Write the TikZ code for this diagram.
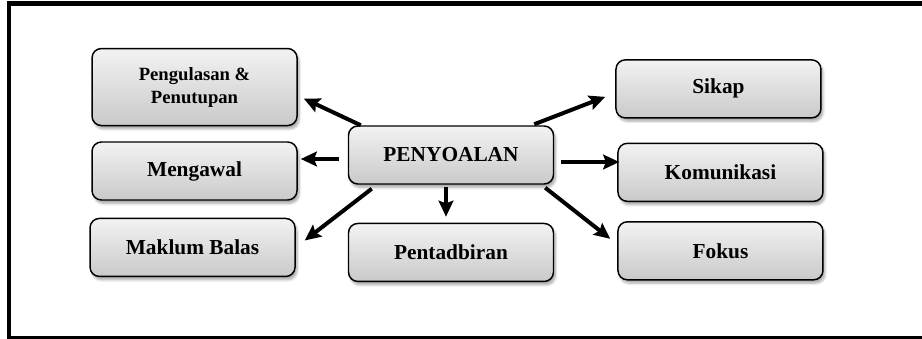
\documentclass[tikz,border=0pt]{standalone}
\usepackage{fontspec}
\setmainfont{Liberation Serif}
\usetikzlibrary{arrows.meta, positioning, shapes, shadows.blur}

\begin{document}
\begin{tikzpicture}[
    node distance=12pt and 37.5pt,
    mybox/.style={rectangle, rounded corners=7pt, draw=black, line width=1.1pt,
        top color=gray!10, bottom color=gray!42, align=center,
        minimum width=153.75pt, minimum height=43.5pt,
        font=\fontsize{16}{19}\selectfont\bfseries,
        blur shadow={shadow xshift=1.5pt, shadow yshift=-2.5pt, shadow blur steps=6, shadow opacity=35}},
    myarrow/.style={line width=3pt, -{Stealth[length=12pt, width=11pt, inset=2pt]}}
]

\useasboundingbox (-338.25pt,-138pt) rectangle (353.25pt,116.25pt);

% Frame (open on the right)
\draw[line width=3.5pt] (362pt,113.6pt) -- (-331.5pt,113.6pt) -- (-331.5pt,-137.5pt) -- (362pt,-137.5pt);

% Nodes
\node[mybox] (penyoalan) {PENYOALAN};
\node[mybox, below=28.5pt of penyoalan] (pentadbiran) {Pentadbiran};
\node[mybox, left=37.5pt of penyoalan, yshift=-12pt] (mengawal) {Mengawal};
\node[mybox, above=11.25pt of mengawal, minimum height=57.75pt,
    font=\fontsize{14}{17.25}\selectfont\bfseries] (pengulasan) {Pengulasan \&\\Penutupan};
\node[mybox, below=12.75pt of mengawal, xshift=-1.5pt] (maklum) {Maklum Balas};
\node[mybox, right=47.25pt of penyoalan, yshift=-13pt] (komunikasi) {Komunikasi};
\node[mybox, above=18pt of komunikasi, xshift=-1.5pt] (sikap) {Sikap};
\node[mybox, below=14.25pt of komunikasi] (fokus) {Fokus};

% Paths
\draw[myarrow] ([xshift=9.75pt]penyoalan.north west) -- ([xshift=4.5pt, yshift=-8.6pt]pengulasan.east);
\draw[myarrow] ([xshift=-6.75pt, yshift=-3pt]penyoalan.west) -- ([xshift=2.25pt, yshift=9pt]mengawal.east);
\draw[myarrow] ([xshift=18pt, yshift=-3pt]penyoalan.south west) -- ([xshift=6.75pt, yshift=5.25pt]maklum.east);
\draw[myarrow] ([xshift=-3.75pt, yshift=-1.5pt]penyoalan.south) -- ([xshift=-3.75pt, yshift=4.5pt]pentadbiran.north);
\draw[myarrow] ([xshift=-15pt, yshift=0.75pt]penyoalan.north east) -- ([xshift=-7.5pt, yshift=-6pt]sikap.west);
\draw[myarrow] ([xshift=5.25pt, yshift=-5.25pt]penyoalan.east) -- ([xshift=1.5pt, yshift=-5.25pt]penyoalan.east -| komunikasi.west);
\draw[myarrow] ([xshift=-6.75pt, yshift=-2.25pt]penyoalan.south east) -- ([xshift=-5.25pt, yshift=9pt]fokus.west);

\end{tikzpicture}
\end{document}
